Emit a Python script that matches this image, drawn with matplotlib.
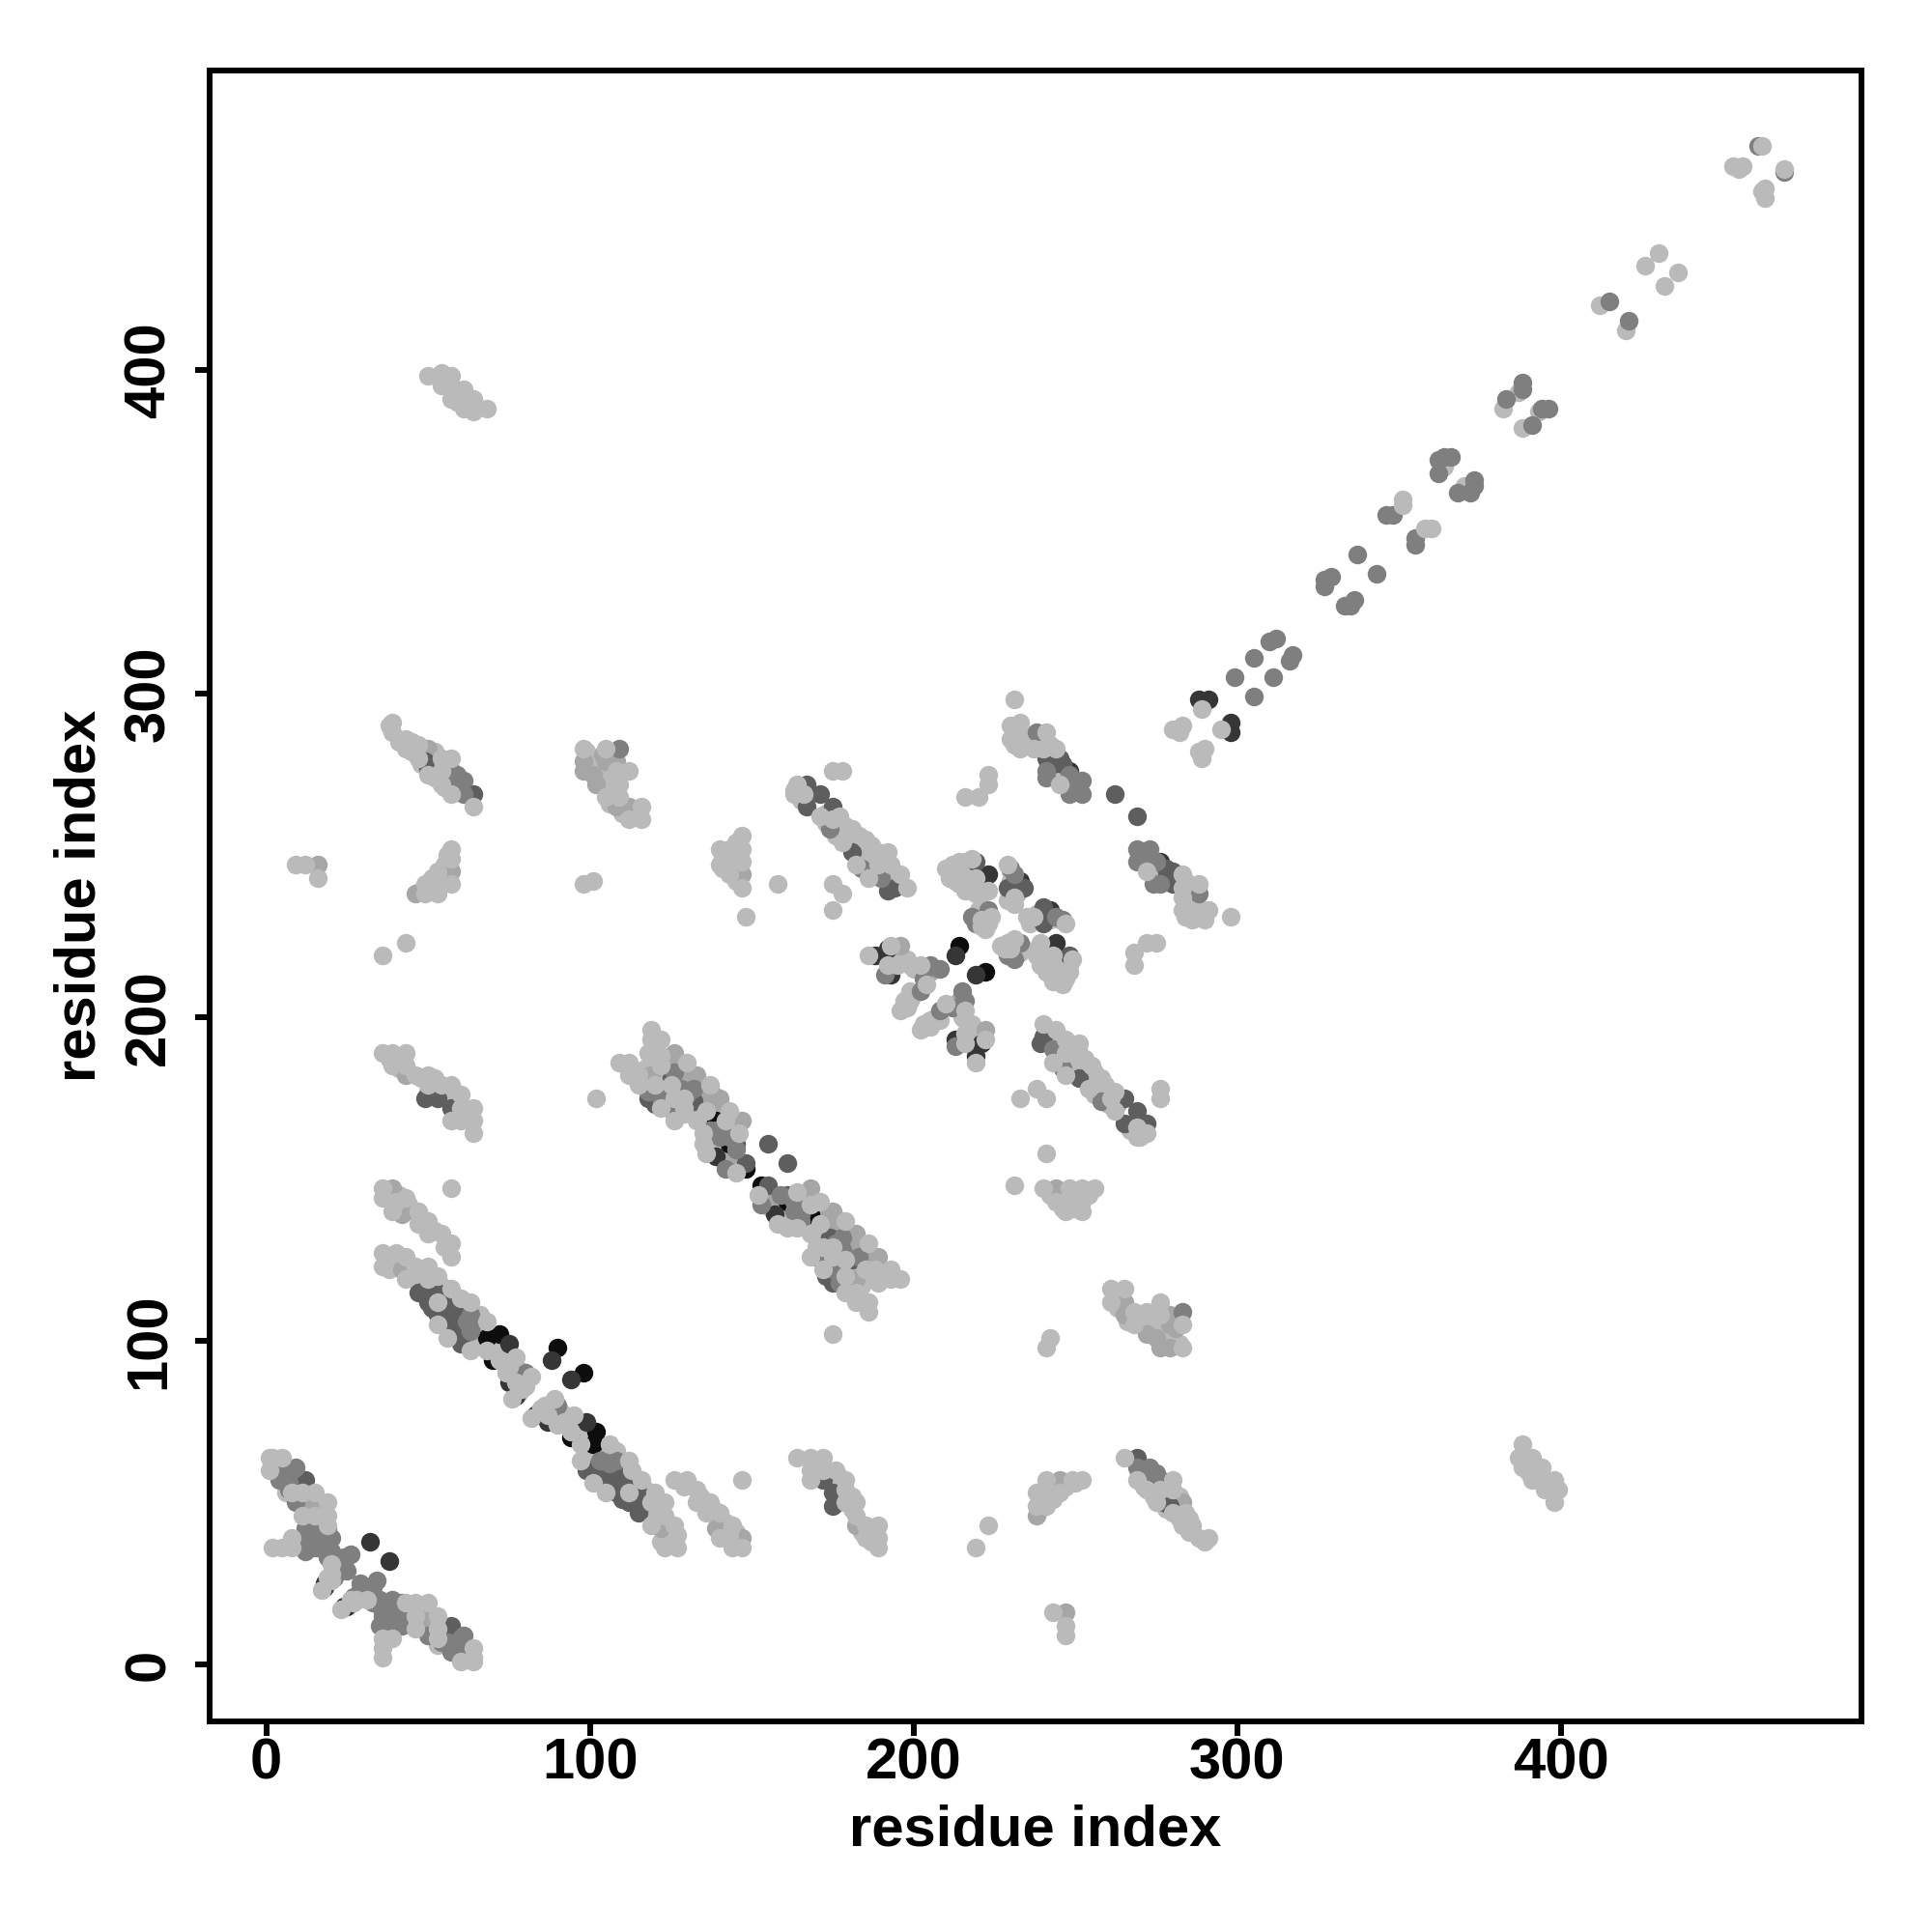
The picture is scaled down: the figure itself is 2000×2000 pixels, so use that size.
import matplotlib
matplotlib.use("Agg")
import matplotlib.pyplot as plt

plt.rcParams["font.family"] = ["Liberation Sans", "DejaVu Sans"]

# contacts as (residue j, residue i) with j > i, mirrored when drawn
LIGHT = [
    (23, 17), (26, 20), (28, 20), (31, 20), (27, 19), (36, 8), (36, 5), (36, 2), (39, 8), (43, 19), (46, 19),
    (50, 19), (46, 15), (46, 11), (53, 15), (53, 11), (53, 8), (64, 5), (64, 1), (60, 1), (64, 2),
    (82, 76), (85, 79), (87, 77), (89, 82), (90, 74), (92, 75), (95, 77), (94, 72), (97, 68), (97, 63), (106, 68),
    (101, 56), (105, 53), (112, 63), (113, 60), (112, 53), (116, 57), (120, 53), (119, 50), (123, 50), (119, 43),
    (123, 46), (126, 43), (127, 40), (123, 36), (127, 36), (126, 57), (130, 57), (133, 54), (133, 50), (137, 50),
    (140, 47), (136, 47), (144, 43), (140, 39), (147, 57), (147, 36), (144, 36), (143, 40),
    (152, 145), (158, 136), (161, 135), (164, 135), (164, 146), (168, 142), (171, 143), (168, 133), (171, 136),
    (179, 137), (172, 129), (175, 129), (186, 130), (168, 126), (175, 126), (172, 122), (179, 120), (179, 115),
    (182, 115), (182, 112), (186, 112), (186, 109), (175, 102), (185, 122), (188, 122), (193, 122), (189, 118),
    (193, 119), (196, 119), (179, 125),
    (228, 221), (231, 224), (230, 221), (210, 204), (216, 202), (216, 199), (216, 195), (216, 192), (222, 193),
    (205, 197), (202, 196), (219, 186), (237, 231), (247, 229), (239, 223), (238, 219), (243, 219), (239, 216),
    (242, 213), (246, 210), (248, 214), (245, 214), (242, 216), (249, 218),
    (240, 198), (244, 196), (247, 193), (251, 192), (243, 186), (247, 189), (251, 189), (247, 182), (255, 185),
    (258, 181), (254, 178), (262, 177), (261, 175), (262, 171), (269, 166), (269, 163), (272, 164), (276, 178),
    (276, 175), (233, 175), (238, 178), (241, 175),
    (272, 245), (283, 244), (283, 240), (283, 237), (288, 241), (283, 233), (287, 232), (291, 233), (290, 230),
    (286, 230), (298, 231), (268, 220), (268, 216), (272, 223), (275, 223),
    (164, 64), (168, 64), (172, 64), (168, 60), (168, 57), (172, 60), (176, 60), (179, 57), (179, 54), (179, 50),
    (182, 50), (182, 46), (185, 43), (189, 43), (185, 39), (189, 39), (189, 36), (223, 43), (219, 36), (241, 57),
    (241, 49), (241, 53), (249, 57), (252, 57), (245, 53), (238, 53), (238, 49), (243, 16), (247, 12), (247, 9),
    (241, 158), (231, 148), (240, 147), (248, 147), (252, 147), (256, 147), (244, 143), (247, 143), (252, 143),
    (247, 140), (252, 140), (242, 101), (241, 98), (261, 116), (265, 116), (261, 112), (268, 109), (268, 105),
    (272, 109), (276, 112), (276, 108), (283, 105), (283, 98),
    (295, 289), (289, 280), (290, 283), (288, 282), (370, 364), (388, 382), (393, 387),
    (436, 430), (432, 426), (420, 412), (463, 456), (463, 453), (462, 455),
    (388, 68), (387, 64), (388, 61), (391, 64), (391, 60), (394, 61), (391, 57), (395, 57), (395, 54), (398, 57),
    (399, 54), (398, 50), (390, 59),
    (265, 64), (269, 57), (272, 54), (276, 54), (280, 57), (280, 54), (275, 50), (280, 47), (284, 47), (283, 43),
    (286, 43), (288, 39), (291, 39),
]
# light contacts that sit underneath the darker ones
LIGHT_UNDER = [
    (46, 17), (46, 13), (50, 16), (53, 13), (53, 6), (63, 3), (26, 19), (28, 21), (30, 21), (32, 20),
    (84, 78), (86, 80), (88, 80), (91, 78), (89, 76), (93, 74), (95, 74), (96, 71), (98, 71), (100, 65), (99, 62),
    (102, 63), (103, 66), (108, 66), (107, 65), (110, 62), (113, 57), (117, 54), (118, 52), (118, 47), (120, 46),
    (121, 44), (124, 42), (125, 40), (124, 38), (122, 38), (125, 37), (129, 55), (134, 52), (138, 48), (142, 44),
    (145, 41), (141, 42), (145, 38),
    (155, 146), (154, 144), (156, 141), (158, 143), (160, 139), (162, 137), (165, 142), (166, 136), (169, 136),
    (170, 133), (173, 133), (170, 129), (177, 128), (173, 124), (177, 123), (180, 122), (183, 122), (187, 120),
    (191, 120), (180, 117), (184, 117), (180, 131), (184, 129), (186, 127), (166, 144), (170, 139),
    (240, 220), (241, 218), (244, 217), (246, 216), (244, 213), (241, 214), (248, 216), (240, 219), (246, 219),
    (243, 211), (245, 211), (247, 212), (232, 222), (229, 223), (227, 222), (231, 220), (233, 220), (234, 221),
    (229, 220), (215, 200), (218, 194), (218, 192), (220, 194), (218, 198), (203, 198), (205, 199), (204, 197),
    (207, 200), (208, 199), (238, 232), (239, 230), (241, 231), (242, 230), (245, 230), (235, 231), (236, 229),
    (241, 196), (245, 193), (249, 190), (253, 187), (245, 188), (249, 185), (250, 183), (256, 183), (259, 179),
    (256, 176), (260, 173), (263, 173), (259, 177), (267, 165), (271, 165), (270, 163), (244, 188), (248, 186),
    (252, 183), (254, 181),
    (274, 244), (284, 242), (285, 236), (285, 234), (284, 231), (289, 231), (289, 233), (285, 238),
    (170, 62), (170, 59), (174, 58), (177, 58), (181, 52), (181, 48), (184, 41), (187, 41), (187, 38), (176, 55),
    (178, 52), (177, 50), (243, 55), (243, 51), (239, 51), (247, 55), (250, 56), (239, 48),
    (263, 112), (263, 110), (266, 106), (270, 107), (270, 105), (273, 105), (274, 107), (278, 103), (280, 101),
    (282, 99), (277, 101), (274, 104), (246, 145), (250, 145), (250, 141), (254, 145), (246, 141), (249, 142),
    (242, 145),
    (271, 55), (274, 52), (278, 52), (278, 48), (282, 45), (282, 47), (285, 45), (285, 41), (290, 38), (278, 55),
    (282, 52),
]
MID_LIGHT = [
    (49, 15), (60, 4), (122, 42), (104, 66), (139, 42), (147, 39), (140, 43), (49, 12), (53, 12),
    (168, 147), (172, 140), (175, 140), (175, 136), (182, 133), (181, 129), (184, 126), (189, 126), (157, 143),
    (182, 119), (214, 205), (222, 196), (238, 46), (245, 57), (182, 43), (247, 16), (176, 138), (178, 135),
    (173, 138), (239, 218), (281, 104),
    (244, 147), (265, 112), (265, 108), (272, 102), (275, 101), (279, 105), (276, 98), (279, 98), (279, 108),
    (283, 50),
]
MID = [
    (29, 25), (34, 26), (33, 19), (35, 20), (39, 20), (39, 12), (42, 12), (35, 12), (36, 16), (57, 4), (61, 9),
    (31, 24), (34, 20), (36, 19), (36, 15), (42, 16), (42, 19), (39, 14), (36, 18), (42, 14), (39, 19), (50, 9),
    (54, 7), (56, 7), (60, 8), (60, 5), (57, 5), (30, 22), (27, 21), (33, 24), (31, 23), (29, 23),
    (90, 80), (108, 63), (103, 63), (104, 63), (106, 62), (153, 142), (163, 140), (172, 126), (175, 122), (178, 132),
    (183, 126), (165, 139), (159, 145), (163, 143), (170, 126), (177, 121), (178, 128), (176, 130), (165, 137),
    (177, 118), (212, 203), (246, 230), (246, 184),
    (233, 223), (229, 219), (231, 218), (215, 208), (216, 205), (208, 202), (244, 231), (213, 191),
    (258, 174), (243, 190), (269, 252), (273, 252), (269, 248), (276, 241), (288, 238), (271, 250), (271, 248),
    (275, 248), (274, 241), (269, 61), (273, 61), (271, 59), (275, 59), (283, 109), (469, 461),
]
DARK = [
    (57, 12), (57, 8), (101, 60), (104, 60), (104, 56), (108, 60), (108, 56), (108, 53), (111, 56), (112, 50),
    (115, 53), (115, 50), (115, 47), (110, 58), (106, 58), (103, 58), (106, 55), (110, 54), (110, 51), (113, 52),
    (117, 50), (99, 60), (102, 61),
    (161, 145), (155, 148), (174, 132), (181, 125), (175, 118), (161, 155), (173, 120),
    (248, 219), (240, 234), (240, 194), (239, 192), (251, 181), (265, 175), (269, 171), (265, 167), (272, 167),
    (280, 245), (280, 241), (278, 243), (278, 246), (282, 243), (269, 262), (172, 57), (175, 53), (175, 49),
    (269, 64), (273, 57), (276, 57), (279, 49), (240, 229), (277, 50),
]
DARKER = [
    (25, 18), (24, 18), (38, 32), (39, 16), (83, 77), (99, 75), (87, 75), (94, 88), (157, 139),
    (219, 213), (244, 223), (240, 232), (241, 233), (242, 233), (213, 193), (219, 188), (221, 192), (276, 248),
    (298, 291), (298, 288),
]
BLACK = [(98, 90), (102, 72), (101, 68), (94, 70), (161, 143), (168, 139), (153, 148), (222, 214)]
MID_TOP = [
    (311, 305), (316, 310), (317, 312), (305, 299), (343, 337), (336, 329), (333, 327), (335, 327), (355, 348),
    (355, 346), (373, 366), (373, 364), (368, 362), (372, 362), (391, 383), (396, 388), (394, 388), (421, 415),
]
LIGHT_TOP = [(358, 351), (360, 351), (469, 462)]

GROUPS = [
    (LIGHT_UNDER, "#bababa"),
    (MID_LIGHT, "#a6a6a6"),
    (BLACK, "#0d0d0d"),
    (DARKER, "#363636"),
    (DARK, "#5e5e5e"),
    (MID, "#7f7f7f"),
    (LIGHT, "#bababa"),
    (MID_TOP, "#7f7f7f"),
    (LIGHT_TOP, "#bababa"),
]
TICKS = [0, 100, 200, 300, 400]


def draw_contacts(ax, contacts, color):
    j = [c[0] for c in contacts]
    i = [c[1] for c in contacts]
    ax.scatter(j + i, i + j, s=195, c=color, linewidths=0, zorder=3)


if __name__ == "__main__":
    fig = plt.figure(figsize=(20, 20), dpi=100)
    ax = fig.add_axes([217 / 2000, 1 - 1782 / 2000, 1710 / 2000, 1709 / 2000])
    for contacts, color in GROUPS:
        draw_contacts(ax, contacts, color)
    ax.set_xlim(-17.5, 492.8)
    ax.set_ylim(-17.6, 492.4)
    ax.set_xticks(TICKS)
    ax.set_yticks(TICKS)
    for spine in ax.spines.values():
        spine.set_linewidth(4.3)
    ax.tick_params(length=11, width=4.3, labelsize=43)
    ax.tick_params(axis="x", pad=1)
    ax.tick_params(axis="y", pad=14)
    for label in ax.get_xticklabels():
        label.set_fontweight("bold")
    for label in ax.get_yticklabels():
        label.set_fontweight("bold")
        label.set_rotation(90)
        label.set_verticalalignment("center")
    ax.set_xlabel("residue index", fontsize=43, fontweight="bold", labelpad=10)
    ax.set_ylabel("residue index", fontsize=43, fontweight="bold", labelpad=12)
    fig.savefig("out.png", dpi=100)
